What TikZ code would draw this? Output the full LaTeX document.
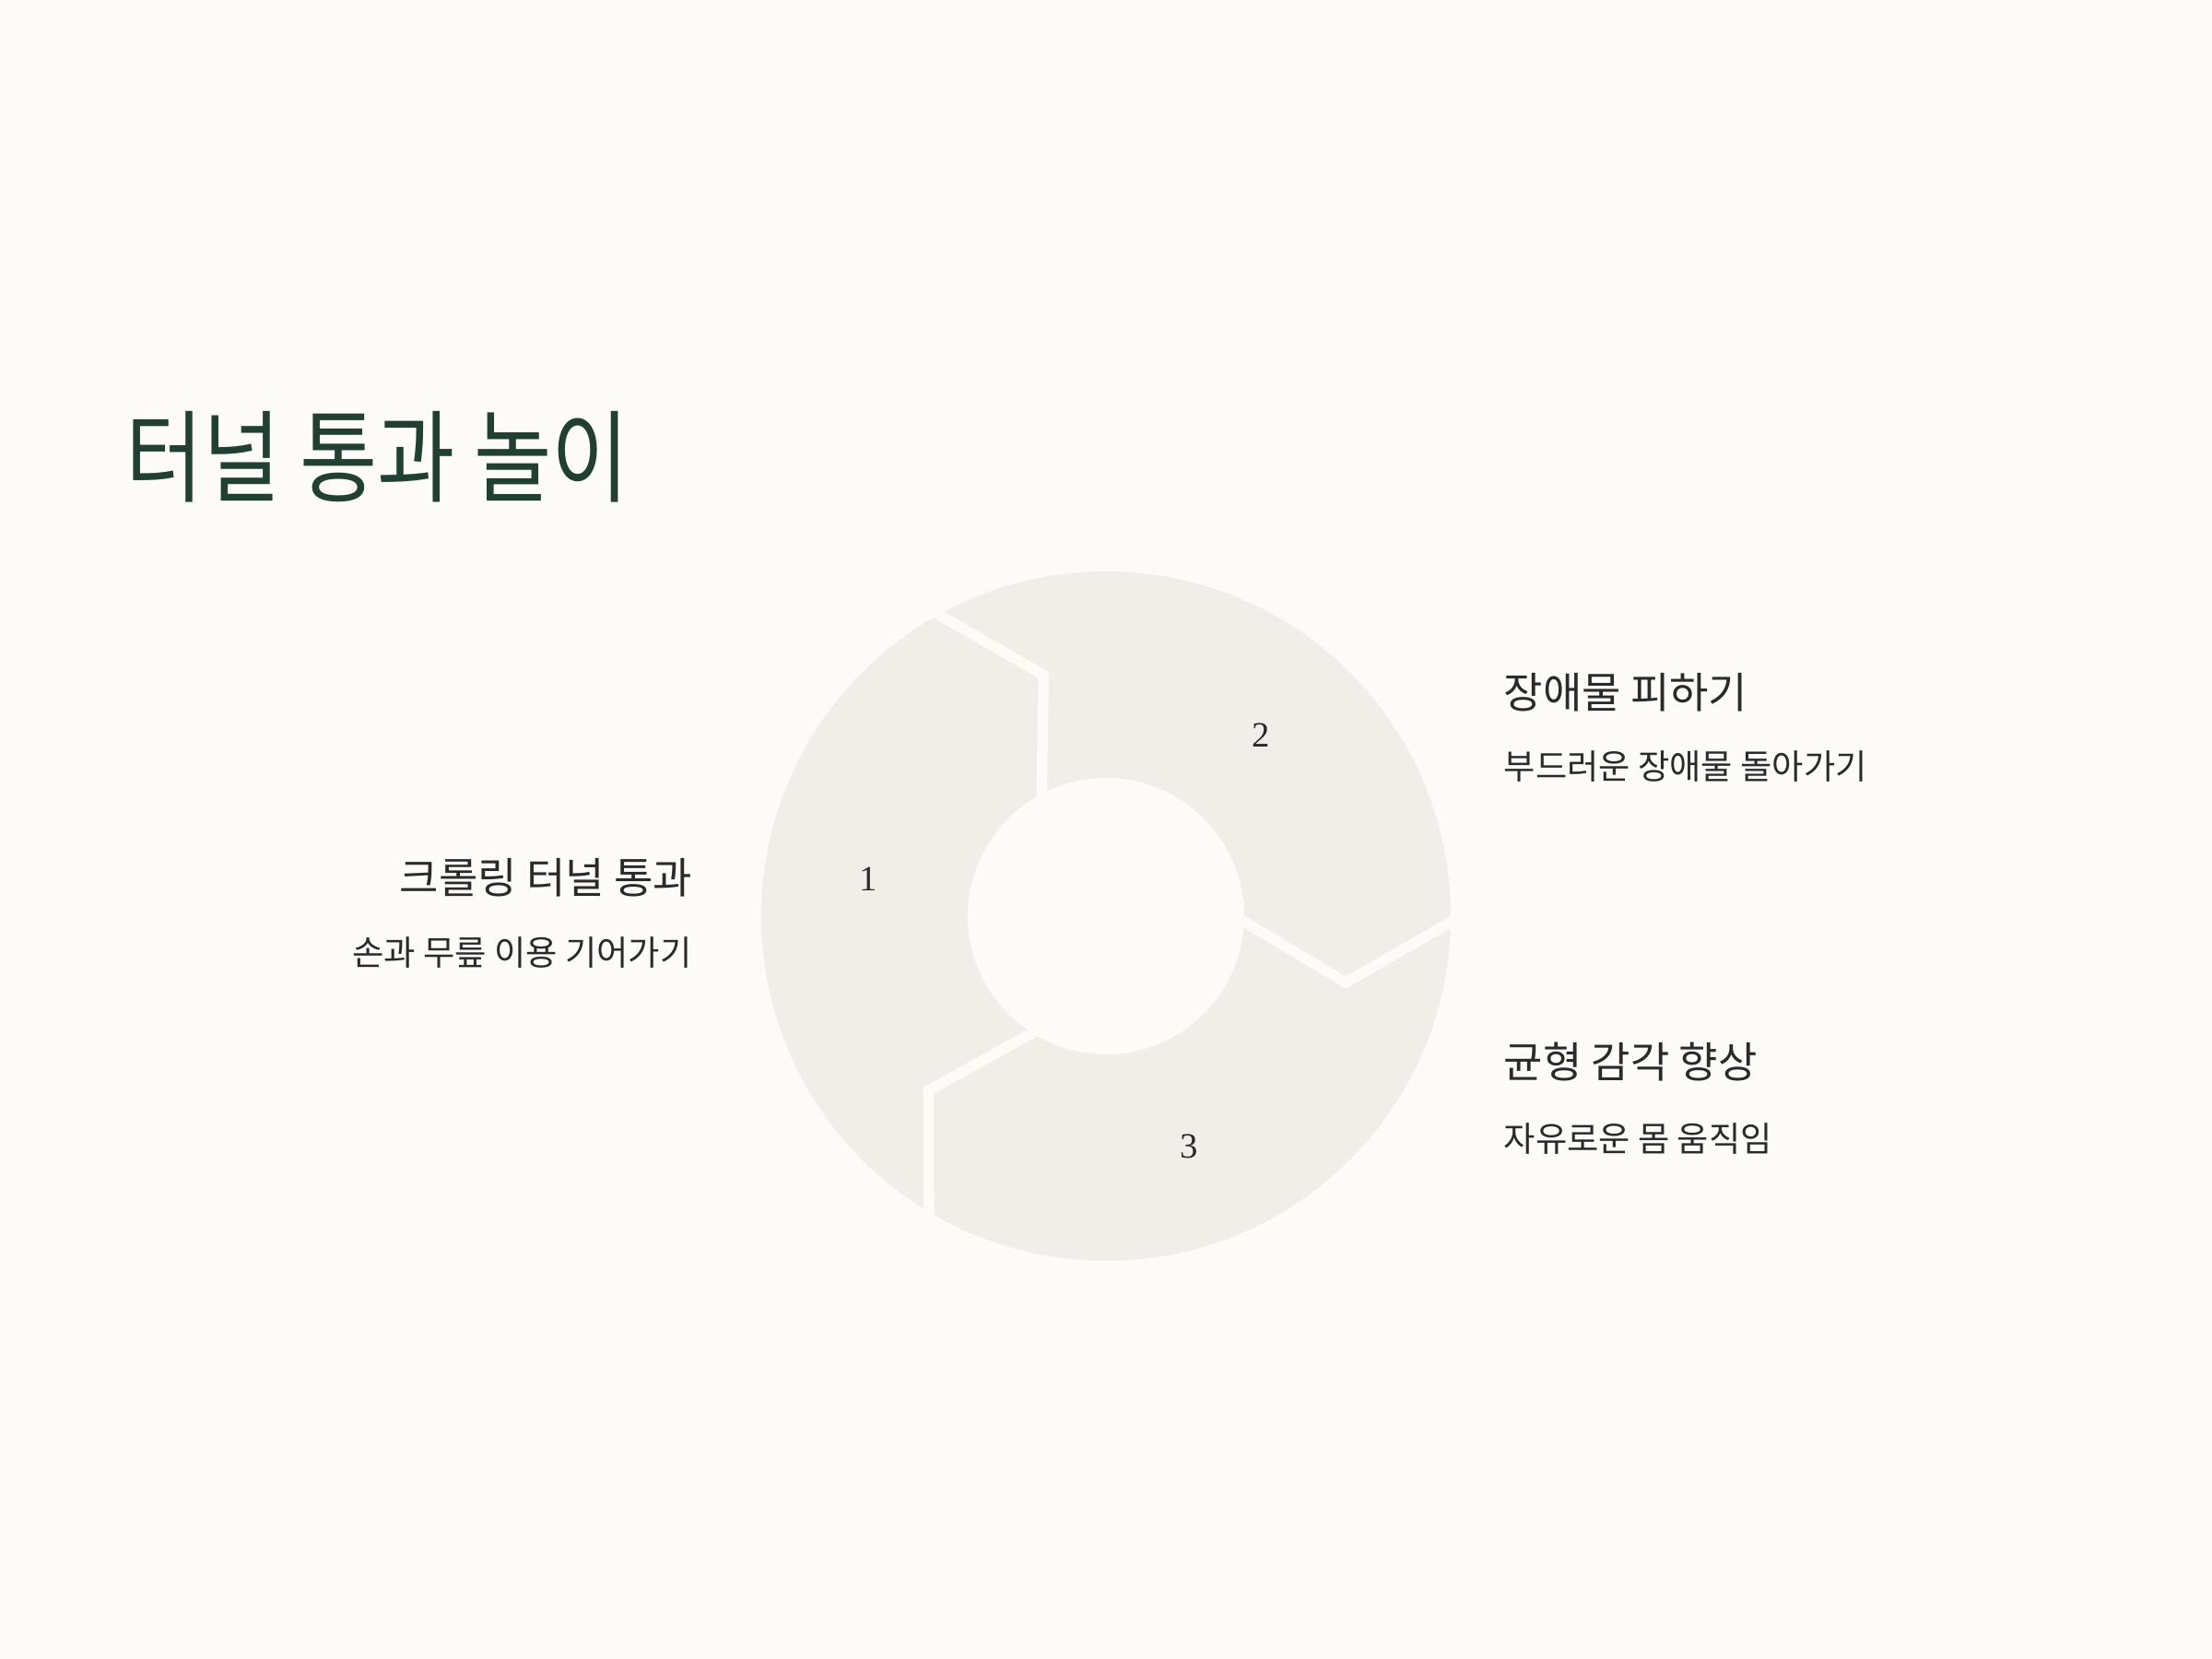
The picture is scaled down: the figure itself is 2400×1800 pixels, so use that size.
\documentclass[tikz,border=0pt]{standalone}
\usepackage{fontspec}
\newfontfamily\kr{Noto Sans CJK KR}
\newfontfamily\krtitle[FakeStretch=0.84]{Noto Sans CJK KR}
\newfontfamily\numfont{Liberation Serif}
\definecolor{bg}{HTML}{FCFBF8}
\definecolor{ring}{HTML}{F0EEE8}
\definecolor{titlec}{HTML}{213F33}
\definecolor{txt}{HTML}{2A2A2A}
\tikzset{
  seg/.style={fill=ring, draw=none},
  gap/.style={draw=bg, line width=0.115cm, line join=miter},
  ttl/.style={inner sep=0pt, text=titlec, font=\krtitle\fontsize{31}{36}\selectfont},
  head/.style={inner sep=0pt, text=txt, font=\kr\fontsize{13.1}{16}\selectfont},
  sub/.style={inner sep=0pt, text=txt, font=\kr\fontsize{10.6}{13}\selectfont},
  num/.style={inner sep=0pt, text=txt, font=\numfont\fontsize{11}{13}\selectfont},
}
\begin{document}
\begin{tikzpicture}[x=0.01cm,y=0.01cm]
\fill[bg] (0,0) rectangle (2400,1800);
\useasboundingbox (0,0) rectangle (2400,1800);
\begin{scope}[shift={(1200,806)}]
  % segment 1
  \fill[seg] (240:374) arc[start angle=240,end angle=120,radius=374] -- (104.5:270) -- (120:150) arc[start angle=120,end angle=240,radius=150] -- (224.5:270) -- cycle;
  % segment 2
  \fill[seg] (120:374) arc[start angle=120,end angle=0,radius=374] -- (-15.5:270) -- (0:150) arc[start angle=0,end angle=120,radius=150] -- (104.5:270) -- cycle;
  % segment 3
  \fill[seg] (0:374) arc[start angle=360,end angle=240,radius=374] -- (224.5:270) -- (240:150) arc[start angle=240,end angle=360,radius=150] -- (-15.5:270) -- cycle;
  % gaps
  \draw[gap] (120:385) -- (104.5:270) -- (120:140);
  \draw[gap] (0:385) -- (-15.5:270) -- (0:140);
  \draw[gap] (240:385) -- (224.5:270) -- (240:140);
  \fill[bg] (0,0) circle[radius=145];
\end{scope}
\node[ttl, anchor=base west] (title) at (136,1263) {터널 통과 놀이};
\node[head, anchor=base east] (h1) at (752,830) {크롤링 터널 통과};
\node[sub, anchor=base east] (s1) at (751,752) {손과 무릎 이용 기어가기};
\node[head, anchor=base west] (h2) at (1631,1031) {장애물 피하기};
\node[sub, anchor=base west] (s2) at (1631,954) {부드러운 장애물 돌아가기};
\node[head, anchor=base west] (h3) at (1631,630) {균형 감각 향상};
\node[sub, anchor=base west] (s3) at (1631,550) {자유로운 몸 움직임};
\node[num] (n1) at (942,846) {1};
\node[num] (n2) at (1368,1002) {2};
\node[num] (n3) at (1290,556) {3};
\end{tikzpicture}
\end{document}
